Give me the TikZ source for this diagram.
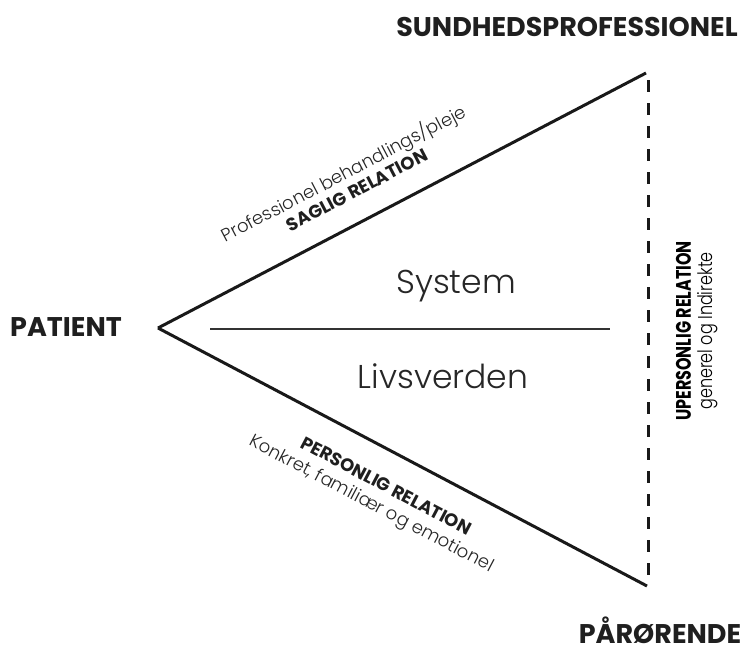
\documentclass[tikz,border=0pt]{standalone}
\usepackage{fontspec}
\setmainfont{Poppins}
\newfontfamily\lightfont{Poppins Light}
\newfontfamily\condfont{Poppins}[FakeStretch=0.76]
\newfontfamily\condlightfont{Poppins Light}[FakeStretch=0.8]
\usetikzlibrary{positioning}

\begin{document}
\begin{tikzpicture}[
  x=1pt, y=-1pt,
  side/.style={draw=black!90, line width=3pt},
  upers/.style={draw=black!90, line width=3pt, dash pattern=on 12pt off 11pt},
  split/.style={draw=black!80, line width=1.2pt},
  role/.style={font=\bfseries\fontsize{27}{30}\selectfont, text=black!88,
               anchor=base, inner sep=0pt},
  world/.style={font=\lightfont\fontsize{33}{36}\selectfont, text=black!85,
                anchor=base},
  relbold/.style={font=\bfseries\fontsize{18}{20}\selectfont, text=black!88, inner sep=1pt},
  rellight/.style={font=\lightfont\fontsize{18}{20}\selectfont, text=black!85, inner sep=1pt},
]
\useasboundingbox (0,0) rectangle (745,649);

%% Hjoerner i trekanten
\coordinate (pat) at (158,328);
\coordinate (sun) at (646,73);
\coordinate (par) at (647,586);

%% Roller
\node[role] (patient) at (66,336) {PATIENT};
\node[role] (sundhed) at (567,36) {SUNDHEDSPROFESSIONEL};
\node[role] (paaroer) at (660,643) {PÅRØRENDE};

%% System / livsverden
\coordinate (splitL) at (210,329);
\coordinate (splitR) at (610,329);
\draw[split] (splitL) -- (splitR);
\node[world] (system) at (456,293) {System};
\node[world] (livs)   at (443,388) {Livsverden};

%% Saglig relation
\draw[side] (pat) --
  node[rellight, pos=0.429, sloped, above=37pt] (saglig2) {Professionel behandlings/pleje}
  node[relbold,  pos=0.436, sloped, above=21pt] (saglig)  {SAGLIG RELATION} (sun);

%% Personlig relation
\draw[side] (pat) --
  node[relbold,  pos=0.4985, sloped, below=24pt] (personlig)  {PERSONLIG RELATION}
  node[rellight, pos=0.49,   sloped, below=45pt] (personlig2) {Konkret, familiær og emotionel} (par);

%% Upersonlig relation
\coordinate (dashT) at (648,80);
\coordinate (dashB) at (648,583);
\draw[upers] (dashT) -- (dashB);
\node[align=center, rotate=90, inner sep=1pt, font=\fontsize{21}{22}\selectfont]
  (upersonlig) at (697,331)
  {{\condfont\bfseries UPERSONLIG RELATION}\\
   {\condlightfont\fontsize{20}{22}\selectfont generel og Indirekte}};

\end{tikzpicture}
\end{document}
